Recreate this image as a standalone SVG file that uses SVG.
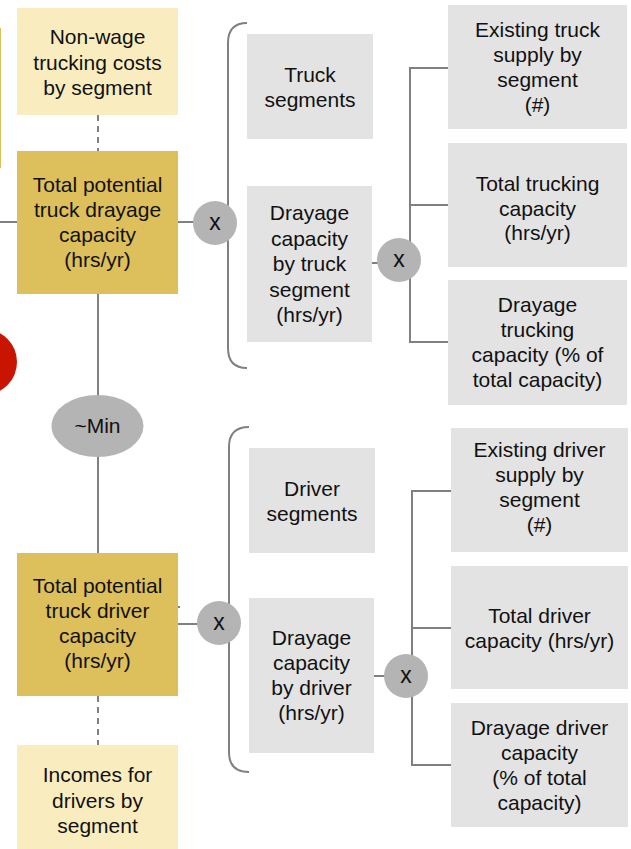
<svg xmlns="http://www.w3.org/2000/svg" width="631" height="849" viewBox="0 0 631 849">
<style>
text{font-family:"Liberation Sans",Arial,sans-serif;font-size:21px;fill:#111;text-anchor:middle}
text.op-t{font-size:23px}
.ly{fill:#F9EDBF}
.gd{fill:#DDBF5B}
.gr{fill:#E3E3E3}
.op{fill:#B4B4B4}
.ln{stroke:#808080;stroke-width:2;fill:none}
.ds{stroke:#808080;stroke-width:2;fill:none;stroke-dasharray:6,5}
</style>
<rect width="631" height="849" fill="#fff"/>
<g id="edge-left">
<rect x="-6" y="28" width="7" height="140" fill="#DDBF5B"/>
<circle cx="-16" cy="362" r="33" fill="#C81400"/>
</g>
<g id="connectors">
<line class="ln" x1="0" y1="222" x2="17" y2="222"/>
<line class="ds" x1="98" y1="115" x2="98" y2="151"/>
<line class="ln" x1="178" y1="222" x2="200" y2="222"/>
<line class="ln" x1="98" y1="294" x2="98" y2="396"/>
<line class="ln" x1="98" y1="456" x2="98" y2="553"/>
<line class="ds" x1="98" y1="696" x2="98" y2="745"/>
<line class="ln" x1="178" y1="624" x2="200" y2="624"/>
<line class="ln" x1="177" y1="607" x2="180" y2="607"/>
<path class="ln" d="M247,23 Q228,23 228,43 L228,203 Q228,223 215,223 Q228,223 228,243 L228,348 Q228,368 247,368"/>
<path class="ln" d="M249,427 Q229,427 229,447 L229,603 Q229,623 219,623 Q229,623 229,643 L229,752 Q229,772 249,772"/>
<line class="ln" x1="372" y1="263" x2="380" y2="263"/>
<path class="ln" d="M449,68 L410,68 L410,342 L449,342 M410,205 L449,205"/>
<line class="ln" x1="374" y1="676" x2="386" y2="676"/>
<path class="ln" d="M451,491 L412,491 L412,765 L451,765 M412,628 L451,628"/>
</g>
<g id="nonwage">
<rect class="ly" x="17" y="8" width="161" height="107"/>
<text x="97.5" y="44">Non-wage</text><text x="97.5" y="69.5">trucking costs</text><text x="97.5" y="95">by segment</text>
</g>
<g id="truck-cap">
<rect class="gd" x="17" y="151" width="161" height="143"/>
<text x="97.5" y="192">Total potential</text><text x="97.5" y="217">truck drayage</text><text x="97.5" y="242">capacity</text><text x="97.5" y="267">(hrs/yr)</text>
</g>
<g id="min">
<ellipse class="op" cx="97.5" cy="426" rx="46" ry="31"/>
<text x="97.5" y="433">~Min</text>
</g>
<g id="driver-cap">
<rect class="gd" x="17" y="553" width="161" height="143"/>
<text x="97.5" y="593">Total potential</text><text x="97.5" y="618">truck driver</text><text x="97.5" y="643">capacity</text><text x="97.5" y="668">(hrs/yr)</text>
</g>
<g id="incomes">
<rect class="ly" x="17" y="745" width="161" height="110"/>
<text x="97.5" y="782">Incomes for</text><text x="97.5" y="807.5">drivers by</text><text x="97.5" y="833">segment</text>
</g>
<g id="x1">
<circle class="op" cx="215" cy="223" r="22"/>
<text class="op-t" x="215" y="230">x</text>
</g>
<g id="x2">
<circle class="op" cx="219" cy="623" r="22"/>
<text class="op-t" x="219" y="630">x</text>
</g>
<g id="truck-seg">
<rect class="gr" x="247" y="34" width="126" height="105"/>
<text x="310" y="82">Truck</text><text x="310" y="107">segments</text>
</g>
<g id="dray-truck">
<rect class="gr" x="247" y="186" width="125" height="156"/>
<text x="309.5" y="220">Drayage</text><text x="309.5" y="245.5">capacity</text><text x="309.5" y="271">by truck</text><text x="309.5" y="296.5">segment</text><text x="309.5" y="322">(hrs/yr)</text>
</g>
<g id="x3">
<circle class="op" cx="399" cy="260" r="22"/>
<text class="op-t" x="399" y="267">x</text>
</g>
<g id="exist-truck">
<rect class="gr" x="448" y="5" width="179" height="124"/>
<text x="537.5" y="37">Existing truck</text><text x="537.5" y="62">supply by</text><text x="537.5" y="87">segment</text><text x="537.5" y="112">(#)</text>
</g>
<g id="total-truck">
<rect class="gr" x="448" y="143" width="179" height="124"/>
<text x="537.5" y="191">Total trucking</text><text x="537.5" y="215.5">capacity</text><text x="537.5" y="240">(hrs/yr)</text>
</g>
<g id="dray-truck-pct">
<rect class="gr" x="448" y="280" width="179" height="125"/>
<text x="537.5" y="312">Drayage</text><text x="537.5" y="337">trucking</text><text x="537.5" y="362">capacity (% of</text><text x="537.5" y="387">total capacity)</text>
</g>
<g id="driver-seg">
<rect class="gr" x="249" y="448" width="126" height="105"/>
<text x="312" y="496">Driver</text><text x="312" y="521">segments</text>
</g>
<g id="dray-driver">
<rect class="gr" x="249" y="598" width="125" height="155"/>
<text x="311.5" y="645">Drayage</text><text x="311.5" y="670">capacity</text><text x="311.5" y="695">by driver</text><text x="311.5" y="720">(hrs/yr)</text>
</g>
<g id="x4">
<circle class="op" cx="406" cy="676" r="22"/>
<text class="op-t" x="406" y="683">x</text>
</g>
<g id="exist-driver">
<rect class="gr" x="451" y="428" width="177" height="124"/>
<text x="539.5" y="457">Existing driver</text><text x="539.5" y="482">supply by</text><text x="539.5" y="507">segment</text><text x="539.5" y="532">(#)</text>
</g>
<g id="total-driver">
<rect class="gr" x="451" y="566" width="177" height="123"/>
<text x="539.5" y="623">Total driver</text><text x="539.5" y="648">capacity (hrs/yr)</text>
</g>
<g id="dray-driver-pct">
<rect class="gr" x="451" y="703" width="177" height="124"/>
<text x="539.5" y="735">Drayage driver</text><text x="539.5" y="760">capacity</text><text x="539.5" y="785">(% of total</text><text x="539.5" y="810">capacity)</text>
</g>
</svg>
